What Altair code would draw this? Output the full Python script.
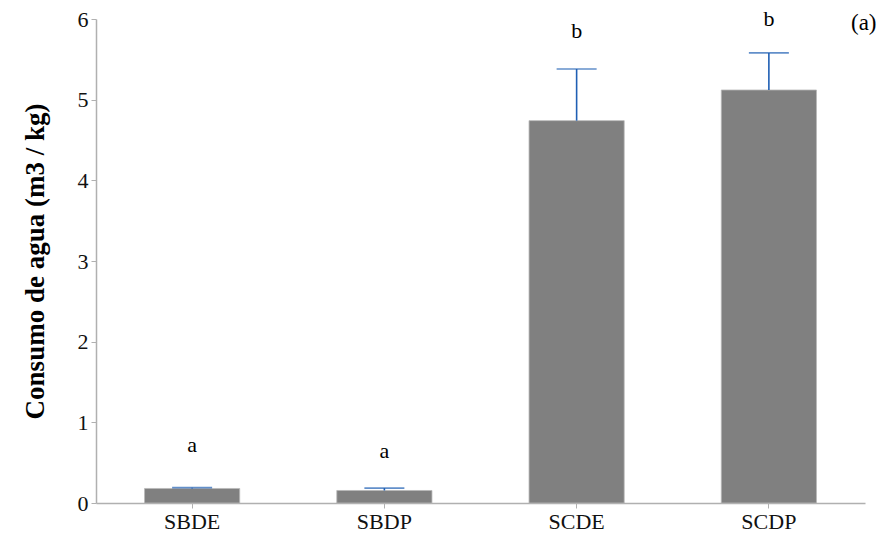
import altair as alt
import pandas as pd

# Water consumption per treatment (mean and upper error limit)
treatments = ["SBDE", "SBDP", "SCDE", "SCDP"]
means = [0.18, 0.155, 4.74, 5.12]
upper = [0.19, 0.185, 5.38, 5.58]
letters = ["a", "a", "b", "b"]
letter_pos = [0.72, 0.64, 5.85, 6.0]

df = pd.DataFrame({
    "trat": treatments,
    "media": means,
    "sup": upper,
    "letra": letters,
    "pos_letra": letter_pos,
})

FONT = "'Liberation Serif', 'Times New Roman', Times, serif"

x_enc = alt.X(
    "trat:N",
    sort=treatments,
    title=None,
    scale=alt.Scale(paddingInner=0.505, paddingOuter=0.2525),
    axis=alt.Axis(labelAngle=0, labelFontSize=22, labelFont=FONT, labelColor="#111",
                  domainColor="#b0b0b0", tickColor="#b0b0b0", tickSize=5, labelPadding=3,
                  domainWidth=1.5),
)
y_scale = alt.Scale(domain=[0, 6], nice=False)

bars = alt.Chart(df).mark_bar(color="#808080", stroke="#b8b8b8", strokeWidth=0.8).encode(
    x=x_enc,
    y=alt.Y("media:Q", scale=y_scale, title="Consumo de agua (m3 / kg)",
            axis=alt.Axis(values=[0, 1, 2, 3, 4, 5, 6], format="d", grid=False,
                          labelFontSize=22, labelFont=FONT, labelColor="#111",
                          titleFont=FONT, titleFontSize=27, titleFontWeight="bold",
                          titleColor="#000", titlePadding=28, domainColor="#b0b0b0",
                          tickColor="#b0b0b0", tickSize=5, domainWidth=1.5, labelPadding=3)),
)

err = alt.Chart(df).mark_rule(color="#1f5fb4", strokeWidth=1.6).encode(
    x=alt.X("trat:N", sort=treatments),
    y=alt.Y("media:Q", scale=y_scale),
    y2="sup:Q",
)

caps = alt.Chart(df).mark_tick(color="#1f5fb4", orient="horizontal", size=40, thickness=1.6).encode(
    x=alt.X("trat:N", sort=treatments),
    y=alt.Y("sup:Q", scale=y_scale),
)

labels = alt.Chart(df).mark_text(font=FONT, fontSize=22, color="#000", baseline="middle").encode(
    x=alt.X("trat:N", sort=treatments),
    y=alt.Y("pos_letra:Q", scale=y_scale),
    text="letra:N",
)

panel = alt.Chart(pd.DataFrame({"t": ["(a)"]})).mark_text(
    font=FONT, fontSize=23, color="#000", align="left", baseline="middle"
).encode(x=alt.value(755), y=alt.value(4), text="t:N")

chart = (
    alt.layer(bars, err, caps, labels, panel)
    .properties(
        width=769,
        height=484,
        background="white",
        autosize=alt.AutoSizeParams(type="none"),
        padding={"left": 96, "top": 19, "right": 21, "bottom": 34},
    )
    .configure_view(stroke=None)
)

chart.save("out.html", embed_options={"renderer": "svg", "actions": False})
